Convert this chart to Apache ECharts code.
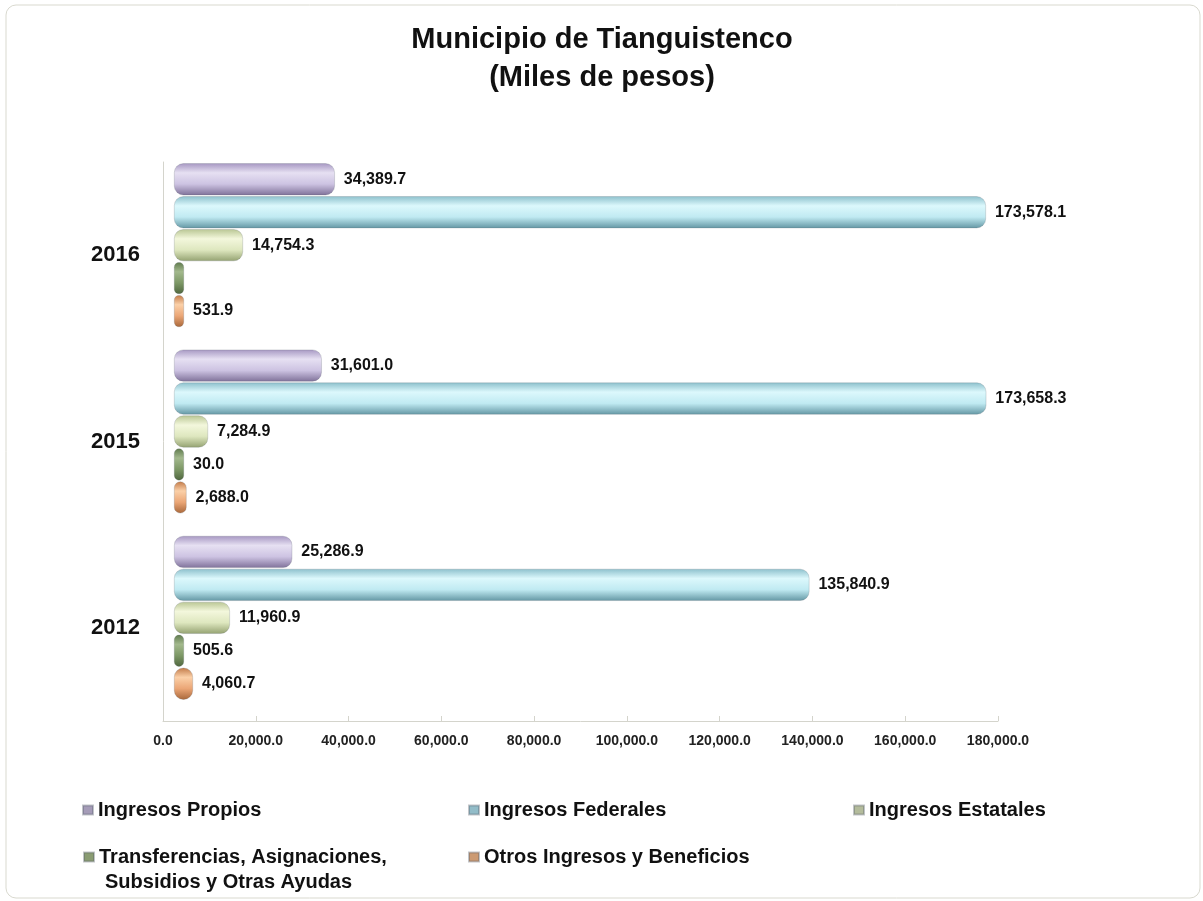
<!DOCTYPE html>
<html>
<head>
<meta charset="utf-8">
<script src="https://cdn.jsdelivr.net/npm/echarts@6/dist/echarts.min.js"></script>
<style>
  html, body { margin: 0; padding: 0; background: #fff; }
  #chart { width: 1203px; height: 901px; }
</style>
</head>
<body>
<div id="chart"></div>
<script>
// data
const years = ['2012', '2015', '2016'];
const propios = [25286.9, 31601.0, 34389.7];
const federales = [135840.9, 173658.3, 173578.1];
const estatales = [11960.9, 7284.9, 14754.3];
const transferencias = [505.6, 30.0, 0];
const otros = [4060.7, 2688.0, 531.9];
const xTicks = { min: 0, max: 180000, interval: 20000 };

const FONT = 'Arial, "Liberation Sans", sans-serif';

const fmt = (v, d) => Number(v).toLocaleString('en-US', { minimumFractionDigits: d, maximumFractionDigits: d });

function tube(c) {
  return {
    type: 'linear', x: 0, y: 0, x2: 0, y2: 1,
    colorStops: [
      { offset: 0, color: c[0] },
      { offset: 0.3, color: c[1] },
      { offset: 0.65, color: c[2] },
      { offset: 1, color: c[3] },
    ],
  };
}

const palette = {
  propios: ['#a697c2', '#e6e0f2', '#cdc3e2', '#7f7199'],
  federales: ['#8cc0cc', '#dcf8fc', '#c0eaf2', '#6497a4'],
  estatales: ['#b9c693', '#f3f7dc', '#dee7bf', '#94a271'],
  transferencias: ['#5f7a4d', '#a3b98d', '#7d9866', '#4f663e'],
  otros: ['#c27a48', '#fbd0a8', '#eba676', '#a8673a'],
};
const iconColor = {
  propios: '#a59cb8', federales: '#92bcc8', estatales: '#b4bc9c',
  transferencias: '#8a9c72', otros: '#cc9a72',
};

const names = {
  propios: 'Ingresos Propios',
  federales: 'Ingresos Federales',
  estatales: 'Ingresos Estatales',
  transferencias: 'Transferencias, Asignaciones, Subsidios y Otras Ayudas',
  otros: 'Otros Ingresos y Beneficios',
};

function bar(key, data) {
  return {
    name: names[key],
    type: 'bar',
    xAxisIndex: 1,
    yAxisIndex: 1,
    data: data,
    barWidth: 32,
    barGap: '3%',
    barMinHeight: 10,
    itemStyle: {
      color: tube(palette[key]),
      borderRadius: 9,
      borderColor: 'rgba(80,90,100,0.35)',
      borderWidth: 0.6,
    },
    label: {
      show: true,
      position: 'right',
      distance: 9,
      color: '#111',
      fontFamily: FONT,
      fontWeight: 'bold',
      fontSize: 16,
      formatter: p => (p.value ? fmt(p.value, 1) : ''),
    },
  };
}

function legendItem(key, left, top) {
  return {
    left: left, top: top, padding: 0,
    itemWidth: 10, itemHeight: 9, icon: 'rect',
    data: [{ name: names[key], itemStyle: { color: iconColor[key] } }],
    formatter: n => (key === 'transferencias' ? 'Transferencias, Asignaciones,' : n),
    textStyle: { fontFamily: FONT, fontWeight: 'bold', fontSize: 20, lineHeight: 22, color: '#111' },
    selectedMode: false,
  };
}

const chart = echarts.init(document.getElementById('chart'));
chart.setOption({
  backgroundColor: '#fff',
  animation: false,
  title: {
    text: 'Municipio de Tianguistenco\n(Miles de pesos)',
    left: 597, textAlign: 'center', top: 16,
    textStyle: { fontFamily: FONT, fontWeight: 'bold', fontSize: 29, lineHeight: 38, color: '#111' },
  },
  graphic: [
    {
      type: 'rect', silent: true, z: -1,
      shape: { x: 6, y: 5, width: 1194, height: 893, r: 10 },
      style: { fill: 'none', stroke: '#d9d9cf', lineWidth: 1 },
    },
    {
      type: 'text', left: 105, top: 872,
      style: { text: 'Subsidios y Otras Ayudas', font: 'bold 20px ' + FONT, fill: '#111' },
    },
  ],
  legend: [
    legendItem('propios', 82, 799),
    legendItem('federales', 468, 799),
    legendItem('estatales', 853, 799),
    legendItem('transferencias', 83, 846),
    legendItem('otros', 468, 846),
  ],
  grid: [
    { left: 163, right: 205, top: 162, bottom: 180 },
    { left: 174, right: 187, top: 152, bottom: 190 },
  ],
  xAxis: [
    {
      type: 'value', gridIndex: 0,
      min: xTicks.min, max: xTicks.max, interval: xTicks.interval,
      splitLine: { show: false },
      axisLine: { show: true, lineStyle: { color: '#d4d4cc' } },
      axisTick: { show: true, length: 5, inside: true, lineStyle: { color: '#d4d4cc' } },
      axisLabel: {
        margin: 13, color: '#222', fontFamily: FONT, fontWeight: 'bold', fontSize: 14,
        formatter: v => fmt(v, 1),
      },
    },
    {
      type: 'value', gridIndex: 1, show: false,
      min: xTicks.min, max: xTicks.max, interval: xTicks.interval,
      splitLine: { show: false },
    },
  ],
  yAxis: [
    {
      type: 'category', gridIndex: 0, data: years,
      axisLine: { show: true, lineStyle: { color: '#d4d4cc' } },
      axisTick: { show: false },
      axisLabel: {
        margin: 23, color: '#111', fontFamily: FONT, fontWeight: 'bold', fontSize: 22,
      },
    },
    { type: 'category', gridIndex: 1, data: years, show: false },
  ],
  series: [
    bar('propios', propios),
    bar('federales', federales),
    bar('estatales', estatales),
    bar('transferencias', transferencias),
    bar('otros', otros),
  ],
});
</script>
</body>
</html>
